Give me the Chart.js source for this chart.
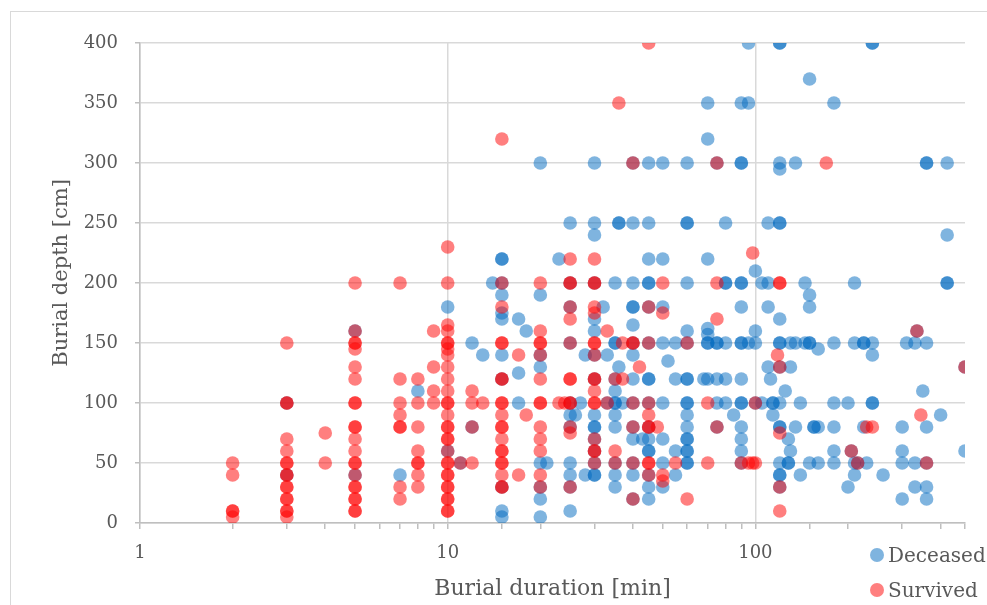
<!DOCTYPE html>
<html>
<head>
<meta charset="utf-8">
<script src="https://cdn.jsdelivr.net/npm/chart.js@4.4.1/dist/chart.umd.min.js"></script>
<style>
  html, body { margin: 0; padding: 0; background: #fff; overflow: hidden; }
  #wrap { position: relative; width: 987px; height: 605px; }
  #frame { position: absolute; left: 10px; top: 11px; width: 1000px; height: 700px; border: 1px solid #d9d9d9; }
  #chart { position: absolute; left: 0; top: 0; }
  #legend { position: absolute; left: 870px; top: 537px; font-family: "DejaVu Serif", serif; font-size: 20px; color: #595959; }
  .item { display: flex; align-items: center; height: 35px; }
  .dot { width: 14px; height: 14px; border-radius: 50%; margin-right: 4px; }
</style>
</head>
<body>
<div id="wrap">
  <div id="frame"></div>
  <canvas id="chart" width="987" height="605"></canvas>
  <div id="legend"></div>
</div>
<script>
// series names and colours
const seriesNames = ["Deceased", "Survived"];
const seriesColors = ["rgba(0,105,192,0.5)", "rgba(255,0,0,0.5)"];

// axis labels
const xTitle = "Burial duration [min]";
const yTitle = "   Burial depth [cm]"; // leading spaces nudge it up a bit, like the original
const xTickLabels = [1, 10, 100];
const xMin = 1, xMax = 480;
const yMin = 0, yMax = 400, yStep = 50;

// [duration min, depth cm]
const deceased = [
  [3,100],[3,40],
  [5,160],[5,40],
  [7,40],
  [8,110],
  [10,180],[10,60],
  [11,50],
  [12,150],[12,80],
  [13,140],
  [14,200],
  [15,220],[15,220],[15,200],[15,190],[15,175],[15,170],[15,140],[15,120],[15,30],[15,10],[15,5],
  [17,170],[17,125],[17,100],
  [18,160],
  [20,300],[20,190],[20,140],[20,130],[20,50],[20,30],[20,20],[20,5],
  [21,50],
  [23,220],
  [25,250],[25,200],[25,180],[25,150],[25,100],[25,90],[25,80],[25,50],[25,40],[25,30],[25,10],
  [26,90],[27,100],
  [28,140],[28,40],
  [30,300],[30,250],[30,240],[30,200],[30,170],[30,160],[30,140],[30,120],[30,90],[30,80],[30,80],[30,70],[30,60],[30,50],[30,40],[30,40],
  [32,180],
  [33,140],[33,100],
  [35,200],[35,150],[35,150],[35,120],[35,110],[35,100],[35,100],[35,90],[35,80],[35,50],[35,40],[35,30],
  [36,250],[36,250],[36,130],
  [37,100],
  [40,300],[40,250],[40,200],[40,180],[40,180],[40,165],[40,150],[40,140],[40,120],[40,100],[40,80],[40,70],[40,50],[40,40],[40,20],
  [43,70],
  [45,300],[45,250],[45,220],[45,200],[45,200],[45,180],[45,150],[45,120],[45,120],[45,100],[45,80],[45,70],[45,60],[45,60],[45,40],[45,30],[45,20],
  [50,300],[50,220],[50,180],[50,150],[50,100],[50,70],[50,50],[50,30],
  [52,135],
  [55,150],[55,120],[55,60],[55,40],
  [60,300],[60,250],[60,250],[60,200],[60,160],[60,150],[60,120],[60,120],[60,100],[60,100],[60,90],[60,80],[60,70],[60,70],[60,60],[60,60],[60,50],[60,50],
  [68,120],
  [70,350],[70,320],[70,220],[70,162],[70,157],[70,150],[70,150],[70,120],
  [75,300],[75,150],[75,150],[75,120],[75,100],[75,80],
  [80,250],[80,200],[80,200],[80,150],[80,120],[80,100],
  [85,90],
  [90,350],[90,300],[90,300],[90,200],[90,200],[90,180],[90,150],[90,150],[90,120],[90,100],[90,100],[90,80],[90,70],[90,60],[90,50],
  [95,400],[95,350],[95,150],
  [100,210],[100,160],[100,150],[100,100],
  [105,200],[105,100],
  [110,250],[110,200],[110,180],[110,130],
  [112,120],
  [114,100],[114,100],[114,90],
  [120,400],[120,400],[120,300],[120,295],[120,250],[120,250],[120,170],[120,150],[120,150],[120,130],[120,100],[120,80],[120,80],[120,50],[120,40],[120,40],[120,30],
  [125,110],
  [128,70],[128,50],[128,50],
  [130,150],[130,130],[130,60],
  [135,300],[135,150],[135,80],
  [140,100],[140,40],
  [145,200],[145,150],
  [150,370],[150,190],[150,180],[150,150],[150,150],[150,50],
  [155,80],[155,80],
  [160,145],[160,80],[160,50],
  [180,350],[180,150],[180,100],[180,80],[180,60],[180,50],
  [200,100],[200,30],
  [205,60],
  [210,200],[210,150],[210,50],[210,40],
  [215,50],
  [225,150],[225,150],[225,80],
  [230,50],
  [240,400],[240,400],[240,150],[240,140],[240,100],[240,100],
  [260,40],
  [300,80],[300,60],[300,50],[300,20],
  [310,150],
  [330,150],[330,50],[330,30],
  [335,160],
  [350,110],
  [360,300],[360,300],[360,150],[360,80],[360,50],[360,30],[360,20],
  [400,90],
  [420,300],[420,240],[420,200],[420,200],
  [480,130],[480,60]
];

const survived = [
  [2,50],[2,40],[2,10],[2,10],[2,5],
  [3,150],[3,100],[3,100],[3,70],[3,60],[3,50],[3,50],[3,40],[3,40],[3,30],[3,30],[3,20],[3,20],[3,10],[3,10],[3,5],
  [4,75],[4,50],
  [5,200],[5,160],[5,150],[5,150],[5,145],[5,130],[5,120],[5,100],[5,100],[5,80],[5,80],[5,70],[5,60],[5,50],[5,50],[5,40],[5,30],[5,30],[5,20],[5,20],[5,10],[5,10],
  [7,200],[7,120],[7,100],[7,90],[7,80],[7,80],[7,30],[7,20],
  [8,120],[8,100],[8,80],[8,60],[8,50],[8,50],[8,40],[8,30],
  [9,160],[9,130],[9,110],[9,100],
  [10,230],[10,200],[10,165],[10,160],[10,150],[10,150],[10,145],[10,140],[10,130],[10,120],[10,110],[10,100],[10,100],[10,90],[10,80],[10,80],[10,70],[10,70],[10,60],[10,50],[10,50],[10,40],[10,40],[10,30],[10,30],[10,20],[10,20],[10,10],[10,10],
  [11,50],
  [12,110],[12,100],[12,80],[12,50],
  [13,100],
  [15,320],[15,200],[15,180],[15,150],[15,150],[15,120],[15,120],[15,100],[15,100],[15,90],[15,80],[15,80],[15,70],[15,60],[15,60],[15,50],[15,50],[15,40],[15,30],[15,30],
  [17,140],[17,40],
  [18,90],
  [20,200],[20,160],[20,150],[20,150],[20,140],[20,120],[20,100],[20,100],[20,80],[20,70],[20,60],[20,40],[20,30],
  [23,100],[24,100],
  [25,220],[25,200],[25,200],[25,180],[25,170],[25,150],[25,120],[25,120],[25,100],[25,100],[25,80],[25,75],[25,30],
  [30,220],[30,200],[30,200],[30,180],[30,175],[30,150],[30,150],[30,140],[30,120],[30,120],[30,110],[30,100],[30,100],[30,70],[30,60],[30,60],[30,50],
  [33,160],[33,100],
  [35,120],[35,60],[35,50],
  [36,350],
  [37,150],[37,120],
  [40,300],[40,150],[40,150],[40,100],[40,80],[40,50],[40,20],
  [42,130],
  [45,400],[45,180],[45,150],[45,100],[45,90],[45,80],[45,80],[45,50],[45,50],[45,40],
  [48,80],
  [50,200],[50,175],[50,40],[50,35],
  [55,50],
  [60,150],[60,20],
  [70,100],[70,50],
  [75,300],[75,200],[75,170],[75,80],
  [90,50],
  [95,50],
  [98,225],[98,50],
  [100,100],[100,50],
  [118,140],
  [120,200],[120,200],[120,130],[120,75],[120,30],[120,10],
  [170,300],
  [205,60],
  [215,50],
  [230,80],[240,80],
  [335,160],
  [345,90],
  [360,50],
  [480,130]
];

const textColor = "#595959";
const fontFamily = "'DejaVu Serif', serif";

function toPoints(list) {
  return list.map(p => ({ x: p[0], y: p[1] }));
}

const ctx = document.getElementById("chart").getContext("2d");
const chart = new Chart(ctx, {
  type: "scatter",
  data: {
    datasets: [
      {
        label: seriesNames[0],
        data: toPoints(deceased),
        backgroundColor: seriesColors[0],
        borderWidth: 0,
        pointRadius: 6.8,
        order: 1
      },
      {
        // drawn on top of the blue points
        label: seriesNames[1],
        data: toPoints(survived),
        backgroundColor: seriesColors[1],
        borderWidth: 0,
        pointRadius: 6.8,
        order: 0
      }
    ]
  },
  options: {
    responsive: false,
    animation: false,
    layout: { padding: { top: 43, right: 22, left: 0, bottom: 0 } },
    plugins: {
      legend: { display: false },
      tooltip: { enabled: false }
    },
    scales: {
      x: {
        type: "logarithmic",
        min: xMin,
        max: xMax,
        border: { color: "#bfbfbf", width: 1.5 },
        grid: {
          color: c => (c.tick && xTickLabels.includes(c.tick.value)) ? "#d9d9d9" : "rgba(0,0,0,0)",
          lineWidth: 1.5,
          tickLength: 6,
          tickColor: "#bfbfbf",
          tickWidth: 1.5
        },
        ticks: {
          autoSkip: false,
          maxRotation: 0,
          padding: 14,
          color: textColor,
          font: { family: fontFamily, size: 18 },
          callback: v => xTickLabels.includes(v) ? String(v) : ""
        },
        title: {
          display: true,
          text: xTitle,
          color: textColor,
          font: { family: fontFamily, size: 22 },
          padding: { top: 0, bottom: 3 }
        },
        afterFit: s => { s.height = 82; }
      },
      y: {
        min: yMin,
        max: yMax,
        border: { color: "#bfbfbf", width: 1.5 },
        grid: {
          color: "#d9d9d9",
          lineWidth: 1.5,
          tickLength: 5,
          tickColor: "#bfbfbf",
          tickWidth: 1.5
        },
        ticks: {
          stepSize: yStep,
          padding: 17,
          color: textColor,
          font: { family: fontFamily, size: 18 }
        },
        title: {
          display: true,
          text: yTitle,
          color: textColor,
          font: { family: fontFamily, size: 21 },
          padding: { top: 49, bottom: 0 }
        },
        afterFit: s => { s.width = 140; }
      }
    }
  }
});

// legend, stacked in the bottom right corner
const legend = document.getElementById("legend");
chart.data.datasets.forEach(ds => {
  const item = document.createElement("div");
  item.className = "item";
  item.innerHTML = `<span class="dot" style="background:${ds.backgroundColor}"></span><span>${ds.label}</span>`;
  legend.appendChild(item);
});
</script>
</body>
</html>
